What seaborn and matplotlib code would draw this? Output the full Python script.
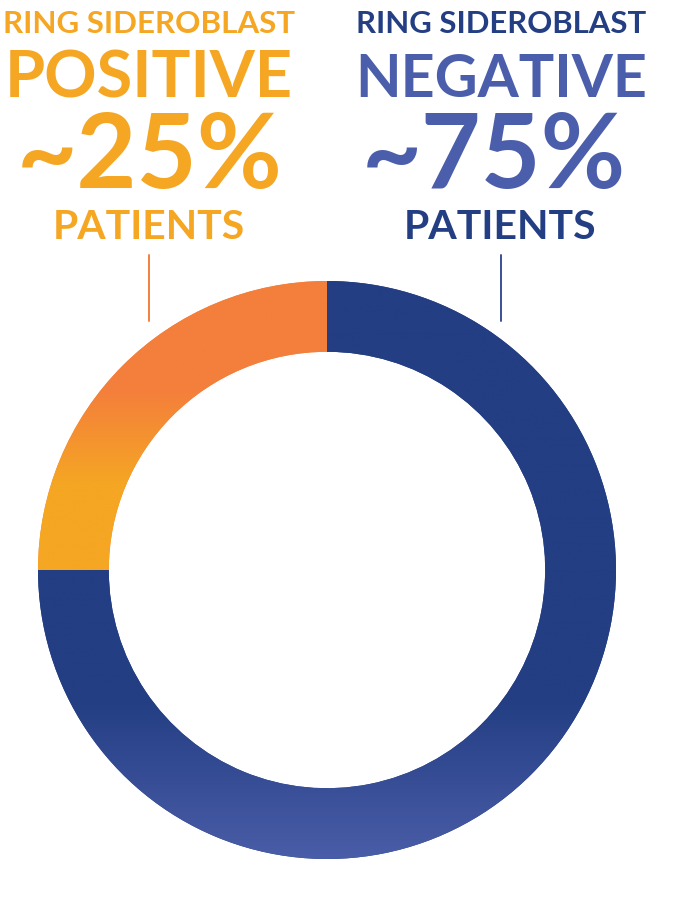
import numpy as np
import matplotlib
matplotlib.use("Agg")
import matplotlib.pyplot as plt
import seaborn as sns
from matplotlib.lines import Line2D

# ---- data ----
categories = ["Ring sideroblast positive", "Ring sideroblast negative"]
shares = [25, 75]
headers = ["RING SIDEROBLAST", "RING SIDEROBLAST"]
statuses = ["POSITIVE", "NEGATIVE"]
percent_labels = ["~25%", "~75%"]
footers = ["PATIENTS", "PATIENTS"]

sns.set_theme(style="white")
plt.rcParams['font.family'] = ['Lato', 'DejaVu Sans']

W, H = 698, 898
fig = plt.figure(figsize=(W / 100, H / 100), dpi=100)
fig.patch.set_facecolor("white")

# ---- donut ----
cx, cy, R = 327, 570, 289
ax = fig.add_axes([(cx - R) / W, (H - cy - R) / H, 2 * R / W, 2 * R / H])
wedges, _ = ax.pie(shares, startangle=90, counterclock=True, radius=1,
                   colors=["#F47F3C", "#233E83"],
                   wedgeprops=dict(width=0.245, linewidth=0))
ax.set_xlim(-1, 1)
ax.set_ylim(-1, 1)
ax.set_aspect("equal")
ax.axis("off")


def hex2rgb(h):
    h = h.lstrip("#")
    return np.array([int(h[i:i + 2], 16) / 255 for i in (0, 2, 4)])


def vertical_gradient(stops, n=600):
    # stops: list of (y, color) with y in data units (-1..1)
    ys = np.linspace(1, -1, n)
    pos = [s[0] for s in stops][::-1]
    cols = np.array([hex2rgb(s[1]) for s in stops])[::-1]
    img = np.zeros((n, 2, 3))
    for c in range(3):
        img[:, :, c] = np.interp(ys, pos, cols[:, c])[:, None]
    return img


grad_specs = [
    [(1.0, "#F47F3C"), (0.62, "#F47F3C"), (0.30, "#F5A623"), (-1.0, "#F5A623")],
    [(1.0, "#233E83"), (-0.45, "#233E83"), (-1.0, "#4A5DA8")],
]
for w, spec in zip(wedges, grad_specs):
    im = ax.imshow(vertical_gradient(spec), extent=(-1, 1, -1, 1),
                   aspect="auto", interpolation="bilinear", zorder=2)
    im.set_clip_path(w)
ax.set_xlim(-1, 1)
ax.set_ylim(-1, 1)

# ---- overlay for text ----
ov = fig.add_axes([0, 0, 1, 1], facecolor="none")
ov.set_xlim(0, W)
ov.set_ylim(H, 0)
ov.axis("off")

orange_txt = "#F5A623"
navy = "#233E83"
blue = "#4B5EAB"

# (text, x-center, baseline y, target width, color)
specs = [
    (headers[0], 149, 33, 292, orange_txt),
    (statuses[0], 149, 97, 288, orange_txt),
    (percent_labels[0], 150, 188, 266, orange_txt),
    (footers[0], 149, 239, 192, orange_txt),
    (headers[1], 501, 33, 290, navy),
    (statuses[1], 501, 97, 292, blue),
    (percent_labels[1], 493.5, 188, 265, blue),
    (footers[1], 500.5, 239, 193, navy),
]
texts = []
for s, x, y, tw, col in specs:
    t = ov.text(x, y, s, ha="center", va="baseline", fontsize=20,
                fontweight="bold", color=col)
    texts.append((t, tw))
fig.canvas.draw()
r = fig.canvas.get_renderer()
for t, tw in texts:
    w = t.get_window_extent(r).width
    t.set_fontsize(20 * tw / w)

# connector lines
ov.add_line(Line2D([149, 149], [255, 321], color="#F47F3C", lw=1.4))
ov.add_line(Line2D([501, 501], [255, 321], color="#3A4F97", lw=1.4))

fig.savefig("out.png", dpi=100, facecolor="white")
